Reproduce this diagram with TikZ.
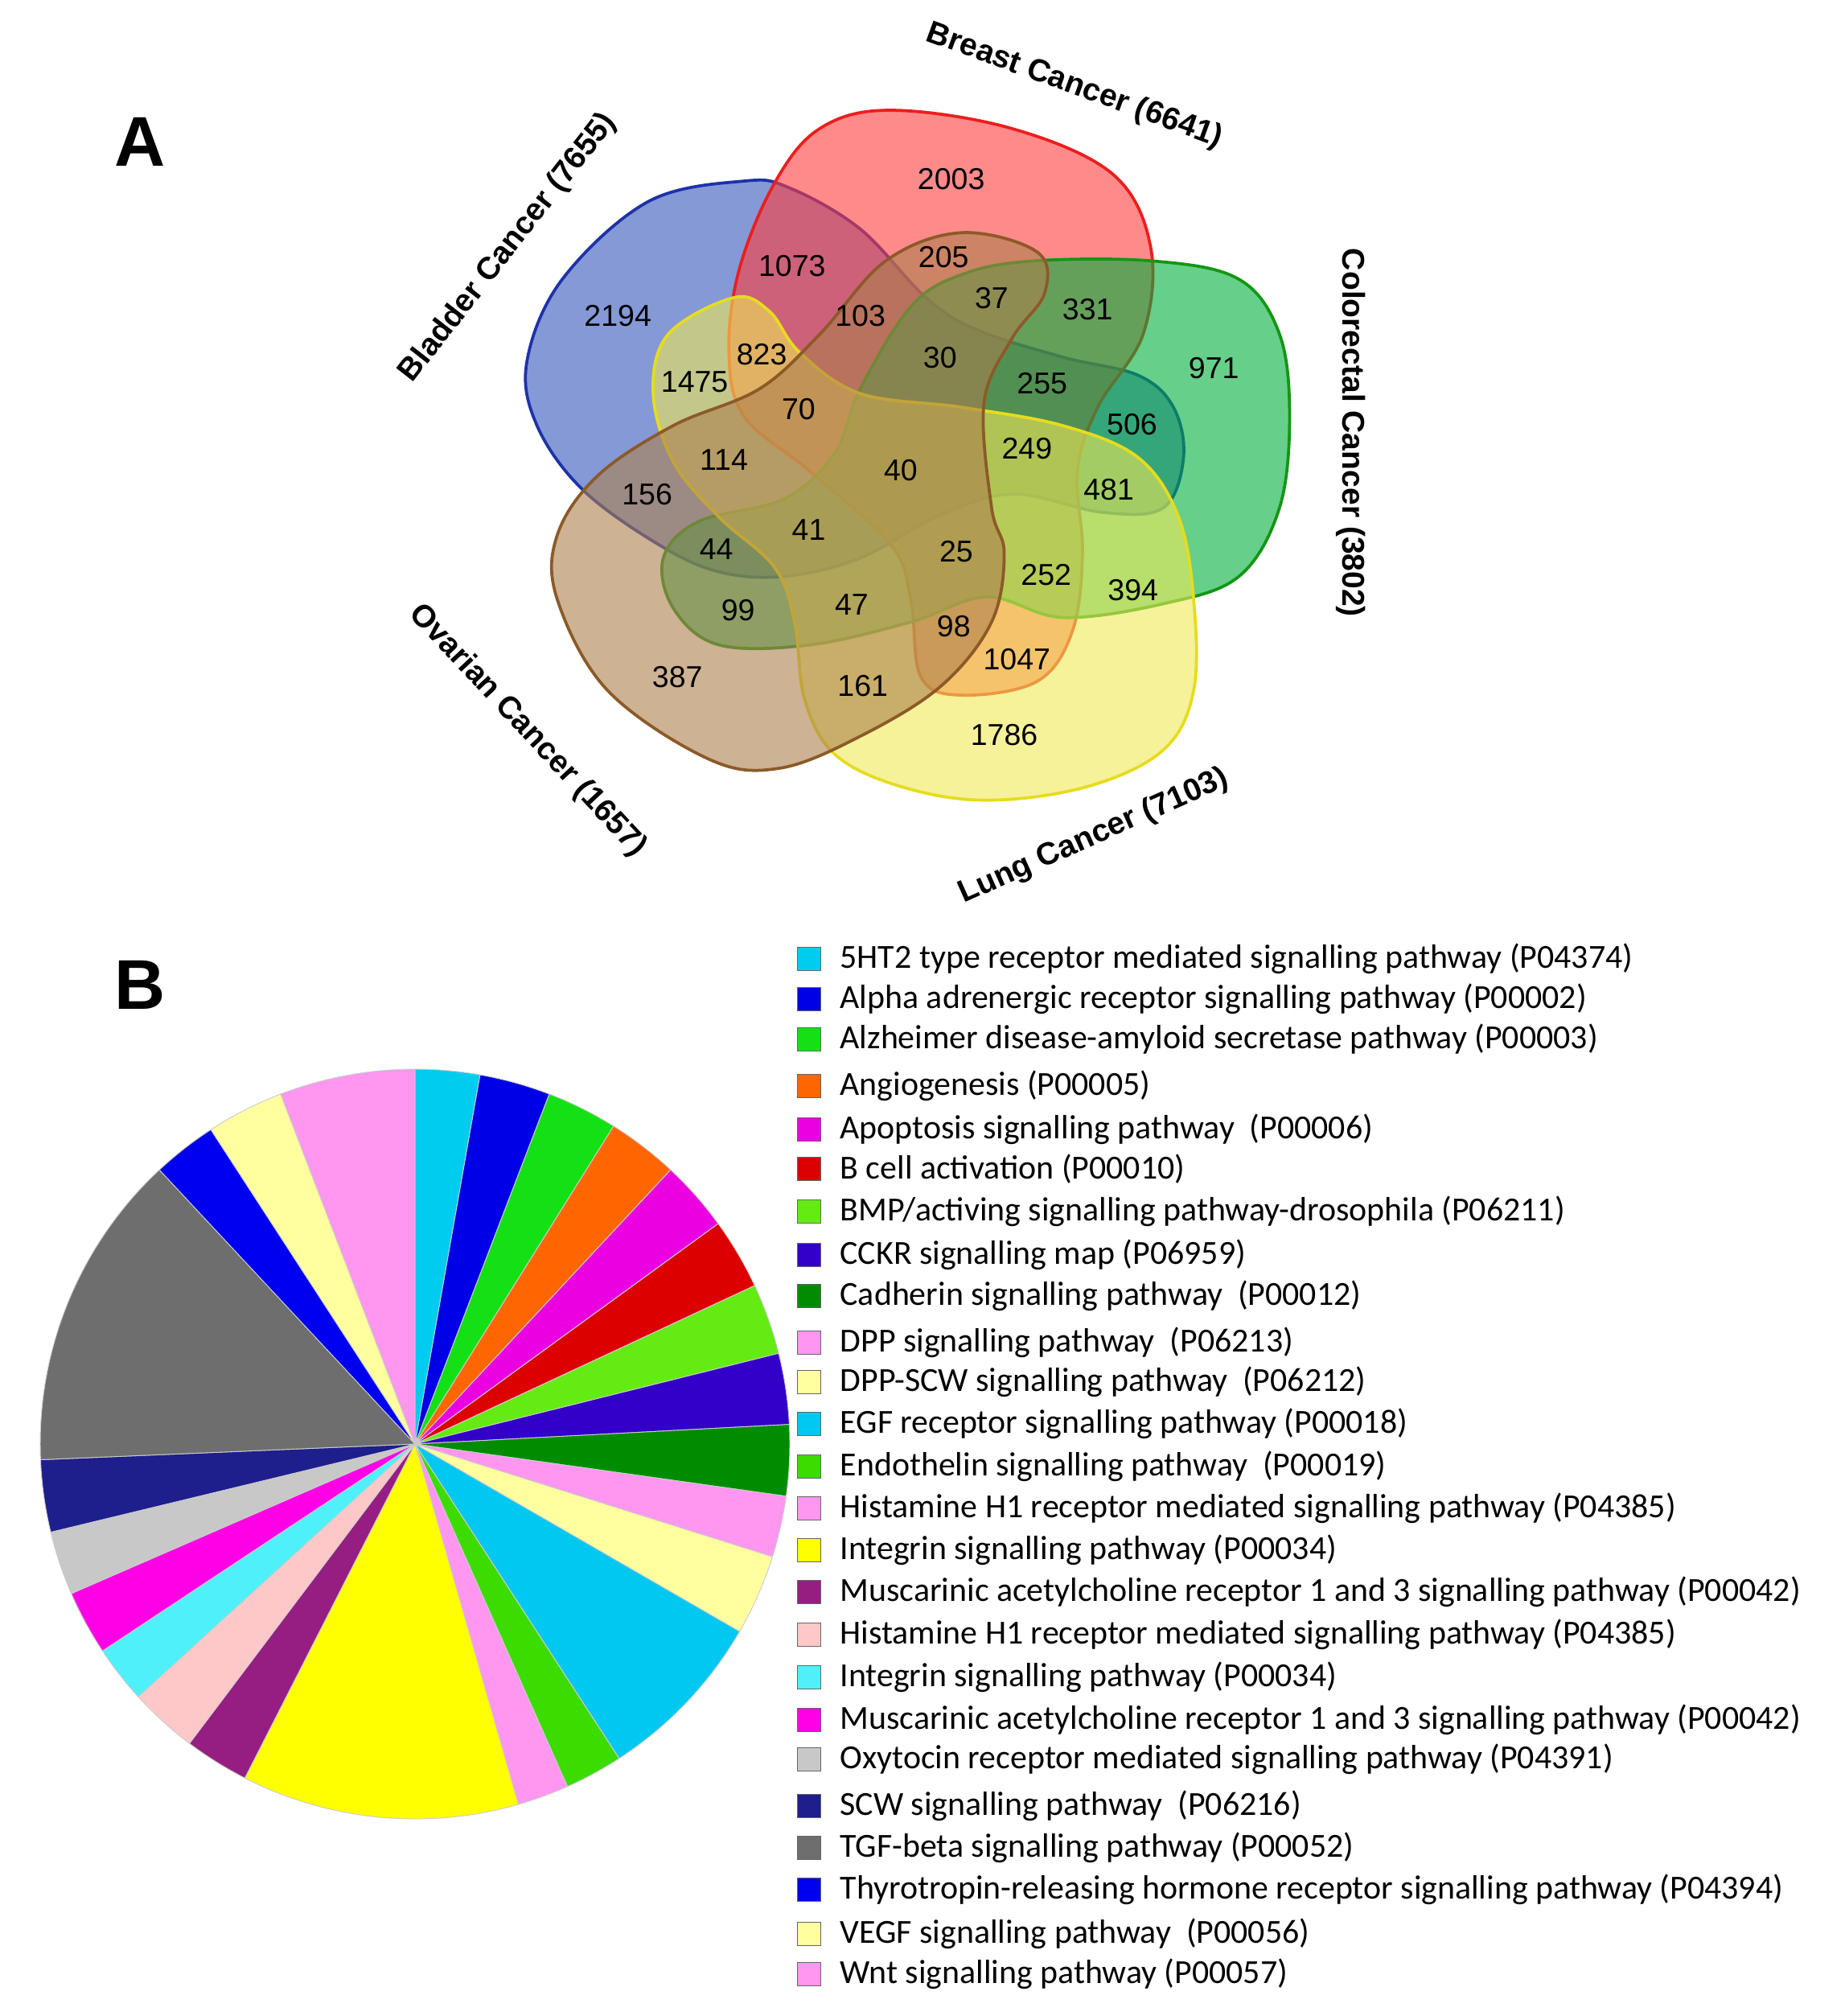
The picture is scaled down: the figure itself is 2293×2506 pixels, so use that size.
\documentclass[tikz,border=0pt]{standalone}
\usepackage{fontspec}
\setmainfont{Liberation Sans}
\newfontfamily\legfont{Carlito}
\begin{document}
\begin{tikzpicture}[x=0.32pt,y=-0.32pt,
  vset/.style={line width=1.2pt, fill opacity=0.6},
  num/.style={font=\fontsize{12}{14}\selectfont},
  lab/.style={font=\fontsize{12.5}{14}\selectfont\bfseries},
  sq/.style={draw=black!60, line width=0.3pt, minimum size=9.5pt, inner sep=0pt},
  leg/.style={anchor=west, inner sep=0pt, font=\legfont\fontsize{13.4}{14}\selectfont},
  sl/.style={draw=gray!40, line width=0.3pt}]
\useasboundingbox (0,0) rectangle (2293,2506);
\definecolor{cB}{RGB}{52,85,187}\definecolor{lB}{RGB}{30,50,170}
\definecolor{cR}{RGB}{255,60,60}\definecolor{lR}{RGB}{235,30,30}
\definecolor{cG}{RGB}{0,175,60}\definecolor{lG}{RGB}{20,150,20}
\definecolor{cY}{RGB}{238,233,87}\definecolor{lY}{RGB}{230,220,30}
\definecolor{cO}{RGB}{172,127,77}\definecolor{lO}{RGB}{140,90,40}
\node[font=\fontsize{28}{30}\selectfont\bfseries] (A) at (174,176) {A};
\node[font=\fontsize{28}{30}\selectfont\bfseries] (B) at (174,1224) {B};
\begin{scope}[shift={(630,120)}, xscale=0.628, yscale=0.568]
\draw[vset, draw=lB, fill=cB] plot[smooth cycle, tension=0.6] coordinates {(470,185)(560,200)(700,290)(830,440)(930,510)(1100,570)(1250,610)(1320,680)(1340,790)(1300,900)(1180,910)(1000,870)(850,920)(700,1010)(550,1050)(420,1040)(300,980)(150,860)(60,720)(40,580)(110,400)(280,230)};
\draw[vset, draw=lR, fill=cR] plot[smooth cycle, tension=0.6] coordinates {(530,190)(620,70)(760,30)(1000,70)(1200,170)(1275,330)(1260,520)(1170,680)(1130,820)(1140,1000)(1120,1170)(1050,1280)(900,1310)(820,1270)(800,1100)(760,980)(600,820)(470,700)(440,560)(460,380)};
\draw[vset, draw=lG, fill=cG] plot[smooth cycle, tension=0.6] coordinates {(1040,360)(1280,360)(1450,400)(1530,520)(1550,700)(1530,900)(1450,1050)(1300,1110)(1100,1140)(950,1095)(800,1150)(600,1200)(420,1200)(330,1120)(310,1010)(380,930)(550,880)(650,780)(700,640)(800,460)(900,390)};
\draw[vset, draw=lY, fill=cY] plot[smooth cycle, tension=0.6] coordinates {(450,440)(520,470)(580,560)(700,650)(900,680)(1100,720)(1250,790)(1330,920)(1360,1100)(1360,1300)(1300,1430)(1150,1510)(950,1540)(780,1510)(650,1440)(590,1320)(570,1150)(530,1030)(420,920)(330,800)(290,650)(320,520)};
\draw[vset, draw=lO, fill=cO] plot[smooth cycle, tension=0.6] coordinates {(900,298)(1050,340)(1065,430)(1000,530)(945,670)(960,900)(985,1000)(960,1150)(860,1290)(700,1400)(540,1470)(400,1450)(200,1300)(100,1100)(100,960)(180,830)(330,720)(500,640)(620,520)(750,360)};
\foreach \n/\p in {2003/{(880,180)},1073/{(565,370)},205/{(865,352)},2194/{(220,480)},37/{(960,442)},331/{(1150,465)},103/{(700,480)},823/{(505,565)},30/{(858,572)},1475/{(372,625)},255/{(1060,628)},971/{(1400,595)},70/{(578,685)},506/{(1238,718)},249/{(1030,770)},114/{(430,795)},40/{(780,818)},481/{(1192,860)},156/{(278,870)},41/{(598,948)},44/{(415,990)},25/{(890,995)},252/{(1068,1047)},394/{(1240,1080)},99/{(458,1125)},47/{(683,1112)},98/{(885,1160)},1047/{(1010,1232)},387/{(338,1270)},161/{(705,1290)},1786/{(985,1398)}}
  \node[num] (n\n) at \p {\n};
\end{scope}
\node[lab, rotate=-20] (lBr) at (1336,107) {Breast Cancer (6641)};
\node[lab, rotate=52] (lBl) at (632,308) {Bladder Cancer (7655)};
\node[lab, rotate=-90] (lCo) at (1680,538) {Colorectal Cancer (3802)};
\node[lab, rotate=-47] (lOv) at (656,908) {Ovarian Cancer (1657)};
\node[lab, rotate=24] (lLu) at (1360,1040) {Lung Cancer (7103)};
% pie
\coordinate (pc) at (516,1795);
\def\R{466}
\foreach \a/\b/\c in {90/80/{0,204,240},80/69/{0,0,230},69/58/{20,225,20},58/47/{255,102,0},47/36/{235,0,225},36/25/{220,0,0},25/14/{100,235,20},14/3/{50,0,200},3/-8/{0,140,0},-8/-17.5/{255,150,240},-17.5/-30/{255,255,160},-30/-57/{0,200,240},-57/-66/{60,220,0},-66/-74/{255,150,240},-74/-117/{255,255,0},-117/-127/{150,30,130},-127/-137.6/{255,200,200},-137.6/-146.5/{80,240,250},-146.5/-156.5/{255,0,230},-156.5/-166.4/{200,200,200},-166.4/-177.6/{30,30,140},-177.6/-227/{110,110,110},-227/-237/{0,0,240},-237/-249/{255,255,160},-249/-270/{255,150,240}}{
  \definecolor{tmp}{RGB}{\c}
  \filldraw[sl, fill=tmp] (pc) -- ++(-\a:\R) arc (-\a:-\b:\R) -- cycle;
}
% legend
\foreach \i/\y/\c/\t in {
1/1192/{0,204,240}/{5HT2 type receptor mediated signalling pathway (P04374)},
2/1242/{0,0,230}/{Alpha adrenergic receptor signalling pathway (P00002)},
3/1292/{20,225,20}/{Alzheimer disease-amyloid secretase pathway (P00003)},
4/1350/{255,102,0}/{Angiogenesis (P00005)},
5/1404/{235,0,225}/{Apoptosis signalling pathway \ (P00006)},
6/1453/{220,0,0}/{B cell activation (P00010)},
7/1506/{100,235,20}/{BMP/activing signalling pathway-drosophila (P06211)},
8/1560/{50,0,200}/{CCKR signalling map (P06959)},
9/1611/{0,140,0}/{Cadherin signalling pathway \ (P00012)},
10/1669/{255,150,240}/{DPP signalling pathway \ (P06213)},
11/1718/{255,255,160}/{DPP-SCW signalling pathway \ (P06212)},
12/1770/{0,200,240}/{EGF receptor signalling pathway (P00018)},
13/1823/{60,220,0}/{Endothelin signalling pathway \ (P00019)},
14/1875/{255,150,240}/{Histamine H1 receptor mediated signalling pathway (P04385)},
15/1927/{255,255,0}/{Integrin signalling pathway (P00034)},
16/1979/{150,30,130}/{Muscarinic acetylcholine receptor 1 and 3 signalling pathway (P00042)},
17/2032/{255,200,200}/{Histamine H1 receptor mediated signalling pathway (P04385)},
18/2085/{80,240,250}/{Integrin signalling pathway (P00034)},
19/2138/{255,0,230}/{Muscarinic acetylcholine receptor 1 and 3 signalling pathway (P00042)},
20/2187/{200,200,200}/{Oxytocin receptor mediated signalling pathway (P04391)},
21/2245/{30,30,140}/{SCW signalling pathway \ (P06216)},
22/2297/{110,110,110}/{TGF-beta signalling pathway (P00052)},
23/2349/{0,0,240}/{Thyrotropin-releasing hormone receptor signalling pathway (P04394)},
24/2404/{255,255,160}/{VEGF signalling pathway \ (P00056)},
25/2454/{255,150,240}/{Wnt signalling pathway (P00057)}}{
  \definecolor{tmp}{RGB}{\c}
  \node[sq, fill=tmp] (s\i) at (1006,\y) {};
  \node[leg] (t\i) at (1044,\y) {\t};
}
\end{tikzpicture}
\end{document}
